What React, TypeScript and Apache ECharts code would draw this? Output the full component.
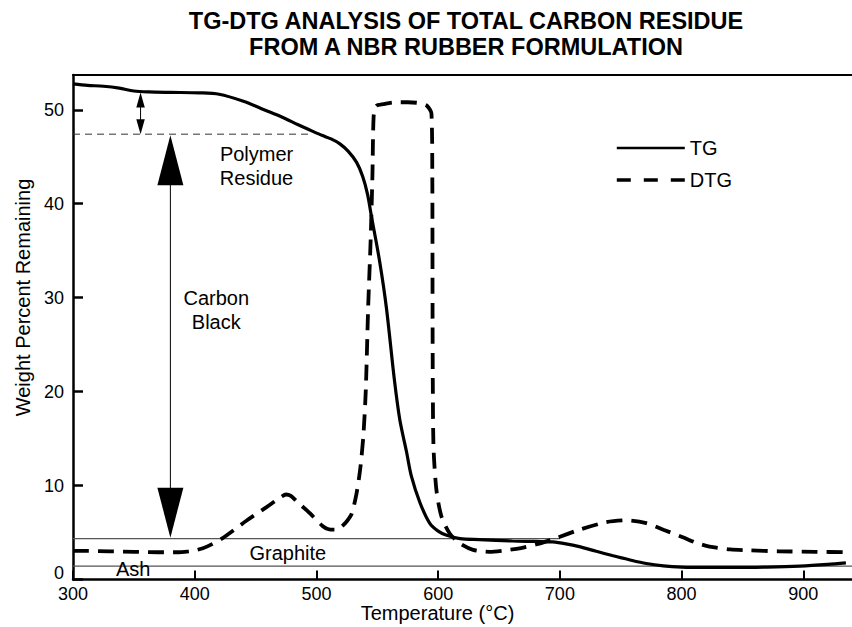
import React, { useEffect, useRef } from 'react';
import * as echarts from 'echarts';

const FONT = 'Liberation Sans, Arial, Helvetica, sans-serif';

const titleLines = ['TG-DTG ANALYSIS OF TOTAL CARBON RESIDUE', 'FROM A NBR RUBBER FORMULATION'];
const xAxisTitle = 'Temperature (°C)';
const yAxisTitle = 'Weight Percent Remaining';
const xTicks = [300, 400, 500, 600, 700, 800, 900];
const yTicks = [0, 10, 20, 30, 40, 50];

const tgData: [number, number][] = [
  [300, 52.75], [312, 52.6], [325, 52.5], [338, 52.3], [350, 52.0], [362, 51.9], [380, 51.85],
  [404, 51.8], [420, 51.65], [440, 50.9], [458, 49.95], [472, 49.2], [485, 48.4], [497, 47.7],
  [505, 47.25], [512, 46.9], [519, 46.4], [526, 45.6], [533, 44.4], [538, 42.9], [542, 41.0],
  [545, 38.8], [552, 33.8], [557.5, 28.9], [564, 21.3], [568.5, 17.0], [574, 13.6], [578, 11.0],
  [585, 8.2], [593, 6.0], [600, 5.15], [607, 4.7], [618, 4.35], [634, 4.25], [661, 4.1],
  [680, 4.05], [694, 4.0], [705, 3.8], [716, 3.5], [730, 3.0], [743, 2.55], [757, 2.1],
  [771, 1.7], [785, 1.45], [800, 1.32], [820, 1.28], [842, 1.28], [870, 1.32], [897, 1.42],
  [920, 1.6], [935, 1.77],
];

const dtgData: [number, number][] = [
  [300, 3.05], [310, 3.05], [330, 3.0], [350, 2.95], [370, 2.9], [385, 2.9], [395, 3.0],
  [402, 3.15], [410, 3.5], [423, 4.4], [443, 6.3], [459, 7.7], [470, 8.7], [475, 9.05],
  [479, 8.9], [484, 8.3], [495, 7.0], [505, 5.7], [510, 5.35], [515, 5.3], [520, 5.55],
  [525, 6.2], [529, 7.0], [533, 9.2], [536, 11.8], [538.5, 15.2], [540.5, 20], [542.5, 29],
  [544.5, 36], [546, 43], [547, 49.3], [549, 50.4], [555, 50.6], [565, 50.8], [575, 50.8],
  [585, 50.7], [591, 50.4], [594.5, 49.6], [595.2, 43], [595.4, 29], [595.6, 21], [596.2, 14],
  [598.6, 9.5], [602.7, 6.7], [609.5, 4.9], [617.7, 3.85], [628.6, 3.15], [642, 2.95],
  [655, 3.1], [668, 3.35], [681, 3.75], [697, 4.4], [716, 5.3], [738, 6.1], [755, 6.3],
  [771, 6.0], [785, 5.3], [801, 4.5], [812, 3.9], [823, 3.5], [840, 3.2], [856, 3.1],
  [880, 3.0], [910, 2.95], [935, 2.9],
];

const polymerLevel: [number, number][] = [[300, 47.4], [497, 47.4]];
const graphiteLevel: [number, number][] = [[300, 4.35], [700, 4.35]];
const ashLevel: [number, number][] = [[300, 1.42], [940, 1.42]];

const arrowX = [355.5, 380];
const arrowTop = [51.85, 47.3];
const arrowBottom = [47.4, 4.45];

const labelTexts = ['Polymer\nResidue', 'Carbon\nBlack', 'Graphite', 'Ash'];
const labelX = [450.8, 417.7, 476.5, 349.5];
const labelY = [44.0, 28.7, 2.77, 1.1];

const headW = [8.5, 26];
const headL = [15, 50];

const hiddenSymbol = { color: 'rgba(0,0,0,0)', borderColor: 'rgba(0,0,0,0)', borderWidth: 0, opacity: 0 };

const option: any = {
  animation: false,
  backgroundColor: '#fff',
  textStyle: { fontFamily: FONT },
  grid: { left: 73, right: 0, top: 75, bottom: 47.5, containLabel: false },
  legend: {
    orient: 'vertical',
    left: 615,
    top: 138,
    padding: 0,
    itemWidth: 68,
    itemHeight: 14,
    itemGap: 12,
    textStyle: { fontSize: 20, color: '#000', fontFamily: FONT },
    data: [
      { name: 'TG', itemStyle: hiddenSymbol, lineStyle: { width: 2.6, color: '#000' } },
      { name: 'DTG', itemStyle: hiddenSymbol, lineStyle: { width: 3.6, color: '#000', type: [14, 13] } },
    ],
  },
  xAxis: [
    {
      type: 'value', min: 300, max: 940, interval: 100,
      axisLine: { show: true, onZero: false, lineStyle: { color: '#000', width: 2.5 } },
      axisTick: { show: true, inside: true, length: 9, lineStyle: { color: '#000', width: 2 }, customValues: xTicks },
      axisLabel: { color: '#000', fontSize: 18, fontFamily: FONT, margin: 5, customValues: xTicks },
      splitLine: { show: false },
    },
    {
      type: 'value', min: 300, max: 940, position: 'top',
      axisLine: { show: true, onZero: false, lineStyle: { color: '#000', width: 2.2 } },
      axisTick: { show: false }, axisLabel: { show: false }, splitLine: { show: false },
    },
  ],
  yAxis: {
    type: 'value', min: 0, max: 53.7, interval: 10,
    axisLine: { show: true, onZero: false, lineStyle: { color: '#000', width: 2.5 } },
    axisTick: { show: true, inside: true, length: 10, lineStyle: { color: '#000', width: 2.5 }, customValues: yTicks },
    axisLabel: {
      color: '#000', fontSize: 18, fontFamily: FONT, margin: 9, customValues: yTicks,
      formatter: (v: number) => (v === 0 ? '{z|0}' : String(v)),
      rich: { z: { fontSize: 18, color: '#000', fontFamily: FONT, padding: [0, 0, 14, 0] } },
    },
    splitLine: { show: false },
  },
  graphic: [
    {
      type: 'text', x: 466, y: 20.5,
      style: {
        text: titleLines[0], fontSize: 23.5, fontWeight: 'bold', fontFamily: FONT,
        fill: '#000', align: 'center', verticalAlign: 'middle',
      },
    },
    {
      type: 'text', x: 466, y: 46.5,
      style: {
        text: titleLines[1], fontSize: 23.5, fontWeight: 'bold', fontFamily: FONT,
        fill: '#000', align: 'center', verticalAlign: 'middle',
      },
    },
    {
      type: 'text', x: 437.5, y: 613,
      style: { text: xAxisTitle, fontSize: 20, fontFamily: FONT, fill: '#000', align: 'center', verticalAlign: 'middle' },
    },
    {
      type: 'text', x: 23, y: 297.5, rotation: Math.PI / 2,
      style: { text: yAxisTitle, fontSize: 20, fontFamily: FONT, fill: '#000', align: 'center', verticalAlign: 'middle' },
    },
  ],
  series: [
    {
      name: 'polymer-level', type: 'line', data: polymerLevel, showSymbol: false, symbol: 'none', silent: true, z: 1,
      lineStyle: { color: '#333', width: 1, type: [7, 5] },
    },
    {
      name: 'graphite-level', type: 'line', data: graphiteLevel, showSymbol: false, symbol: 'none', silent: true, z: 1,
      lineStyle: { color: '#555', width: 1.2 },
    },
    {
      name: 'ash-level', type: 'line', data: ashLevel, showSymbol: false, symbol: 'none', silent: true, z: 1,
      lineStyle: { color: '#555', width: 1.2 },
    },
    {
      name: 'DTG', type: 'line', data: dtgData, showSymbol: false, symbol: 'none', smooth: 0.25, z: 3,
      itemStyle: { color: '#000' },
      lineStyle: { color: '#000', width: 3.8, type: [16, 9] },
    },
    {
      name: 'TG', type: 'line', data: tgData, showSymbol: false, symbol: 'none', smooth: 0.3, z: 4,
      itemStyle: { color: '#000' },
      lineStyle: { color: '#000', width: 3.2 },
    },
    {
      name: 'arrows', type: 'custom', z: 5, silent: true,
      data: arrowX.map((x, i) => [x, arrowTop[i], arrowBottom[i]]),
      encode: { x: 0, y: [1, 2] },
      renderItem: (params: any, api: any) => {
        const i = params.dataIndex;
        const x = api.value(0);
        const p1 = api.coord([x, api.value(1)]);
        const p2 = api.coord([x, api.value(2)]);
        const w = headW[i];
        const l = headL[i];
        return {
          type: 'group',
          children: [
            { type: 'line', shape: { x1: p1[0], y1: p1[1] + l * 0.6, x2: p2[0], y2: p2[1] - l * 0.6 }, style: { stroke: '#000', lineWidth: 1 } },
            { type: 'polygon', shape: { points: [[p1[0], p1[1]], [p1[0] - w / 2, p1[1] + l], [p1[0] + w / 2, p1[1] + l]] }, style: { fill: '#000' } },
            { type: 'polygon', shape: { points: [[p2[0], p2[1]], [p2[0] - w / 2, p2[1] - l], [p2[0] + w / 2, p2[1] - l]] }, style: { fill: '#000' } },
          ],
        };
      },
    },
    {
      name: 'labels', type: 'custom', z: 5, silent: true,
      data: labelX.map((x, i) => [x, labelY[i]]),
      encode: { x: 0, y: 1 },
      renderItem: (params: any, api: any) => {
        const p = api.coord([api.value(0), api.value(1)]);
        return {
          type: 'text', x: p[0], y: p[1],
          style: { text: labelTexts[params.dataIndex], fontSize: 20, lineHeight: 24.4, fontFamily: FONT, fill: '#000', align: 'center', verticalAlign: 'middle' },
        };
      },
    },
  ],
};

export default function App() {
  const ref = useRef<HTMLDivElement>(null);
  useEffect(() => {
    const chart = echarts.init(ref.current!, null, { renderer: 'svg' });
    chart.setOption(option);
    return () => chart.dispose();
  }, []);
  return (
    <div
      ref={ref}
      style={{ position: 'absolute', left: 0, top: 0, width: 852, height: 627, background: '#fff' }}
    />
  );
}
